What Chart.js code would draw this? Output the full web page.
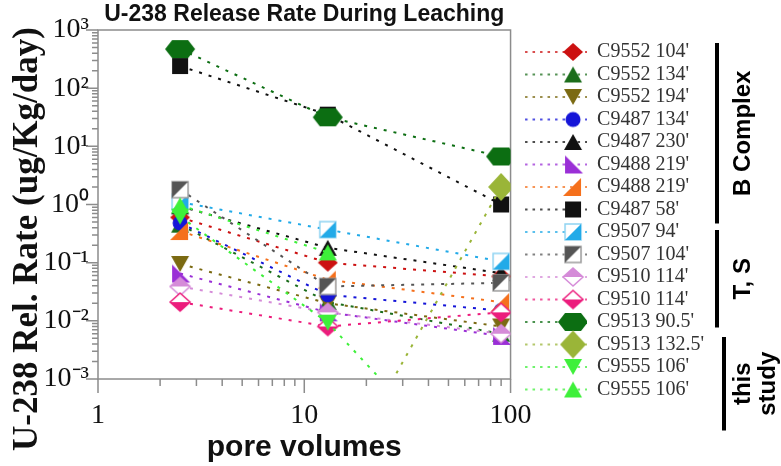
<!DOCTYPE html>
<html>
<head>
<meta charset="utf-8">
<script src="https://cdn.jsdelivr.net/npm/chart.js@4.4.0/dist/chart.umd.min.js"></script>
<style>
  html, body { margin: 0; padding: 0; background: #fff; }
</style>
</head>
<body>
<canvas id="leachChart" width="781" height="466"></canvas>
<script>
// pore volumes at which each leachate sample was taken
const poreVolumes = [2.5, 13, 90];

const xTicks = [1, 10, 100];
const xTickLabels = ['1', '10', '100'];
const yTicks = [0.001, 0.01, 0.1, 1, 10, 100, 1000];
const yTickLabels = ['10⁻³', '10⁻²', '10⁻¹', '10⁰', '10¹', '10²', '10³'];

// U-238 release rate (ug/Kg/day), one array per core sample
const c9552_104 = [0.6, 0.1, 0.058];
const c9552_134 = [0.45, 0.021, 0.006];
const c9552_194 = [0.095, 0.02, 0.008];
const c9487_134 = [0.48, 0.028, 0.015];
const c9487_230 = [0.93, 0.18, 0.066];
const c9488_219a = [0.065, 0.014, 0.0055];
const c9488_219b = [0.35, 0.051, 0.021];
const c9487_58 = [240, 35, 1.0];
const c9507_94 = [1.1, 0.37, 0.105];
const c9507_104 = [1.8, 0.039, 0.045];
const c9510_114a = [0.039, 0.014, 0.006];
const c9510_114b = [0.021, 0.008, 0.014];
const c9513_905 = [470, 31.6, 6.7];
const c9513_1325 = [null, 0.00001, 2.0];
const c9555_106a = [0.62, 0.0093, 0.000006];
const c9555_106b = [0.97, 0.15, null];

const seriesNames = ["C9552 104'", "C9552 134'", "C9552 194'", "C9487 134'", "C9487 230'",
  "C9488 219'", "C9488 219'", "C9487 58'", "C9507 94'", "C9507 104'", "C9510 114'",
  "C9510 114'", "C9513 90.5'", "C9513 132.5'", "C9555 106'", "C9555 106'"];
const seriesValues = [c9552_104, c9552_134, c9552_194, c9487_134, c9487_230, c9488_219a,
  c9488_219b, c9487_58, c9507_94, c9507_104, c9510_114a, c9510_114b, c9513_905,
  c9513_1325, c9555_106a, c9555_106b];
const seriesColors = ['#cc1111', '#1b6d1b', '#7b6a12', '#1515d8', '#111111', '#9a2fd6',
  '#f5701c', '#111111', '#22aae8', '#555555', '#d58bd8', '#ec1c7c', '#0c6e12',
  '#9ab538', '#3ef03a', '#3ef03a'];
const markerKinds = ['diamond', 'triUp', 'triDown', 'circle', 'triUp', 'triLeft', 'triRight',
  'square', 'halfSqLR', 'halfSqUL', 'halfDiaUp', 'halfDiaDown', 'hexagon', 'bigDiamond',
  'triDown', 'triUp'];

function drawMarker(ctx, kind, color, cx, cy) {
  const path = (pts) => {
    ctx.beginPath();
    pts.forEach(([px, py], i) => i ? ctx.lineTo(cx + px, cy + py) : ctx.moveTo(cx + px, cy + py));
    ctx.closePath();
  };
  ctx.fillStyle = color;
  ctx.strokeStyle = color;
  ctx.lineWidth = 1.5;
  const sq = [[-8, -8], [8, -8], [8, 8], [-8, 8]];
  const dia = [[0, -9], [10, 0], [0, 9], [-10, 0]];
  switch (kind) {
    case 'diamond': path(dia); ctx.fill(); break;
    case 'triUp': path([[0, -8], [9, 8], [-9, 8]]); ctx.fill(); break;
    case 'triDown': path([[-9, -8], [9, -8], [0, 8]]); ctx.fill(); break;
    case 'circle': ctx.beginPath(); ctx.arc(cx, cy, 7.5, 0, Math.PI * 2); ctx.fill(); break;
    case 'triLeft': path([[-8, -9], [-8, 9], [10, 9]]); ctx.fill(); break;
    case 'triRight': path([[8, -9], [8, 9], [-10, 9]]); ctx.fill(); break;
    case 'square': path(sq); ctx.fill(); break;
    case 'halfSqLR':
      path(sq); ctx.fillStyle = '#fff'; ctx.fill();
      ctx.strokeStyle = '#8fd3f2'; ctx.stroke();
      path([[8, -8], [8, 8], [-8, 8]]); ctx.fillStyle = color; ctx.fill();
      break;
    case 'halfSqUL':
      path(sq); ctx.fillStyle = '#fff'; ctx.fill();
      ctx.strokeStyle = '#9a9a9a'; ctx.stroke();
      path([[-8, -8], [8, -8], [-8, 8]]); ctx.fillStyle = color; ctx.fill();
      break;
    case 'halfDiaUp':
      path(dia); ctx.fillStyle = '#fff'; ctx.fill(); ctx.stroke();
      path([[-10, 0], [0, -9], [10, 0]]); ctx.fillStyle = color; ctx.fill();
      break;
    case 'halfDiaDown':
      path(dia); ctx.fillStyle = '#fff'; ctx.fill(); ctx.stroke();
      path([[-10, 0], [0, 9], [10, 0]]); ctx.fillStyle = color; ctx.fill();
      break;
    case 'hexagon': path([[-15, 0], [-8, -9], [8, -9], [15, 0], [8, 9], [-8, 9]]); ctx.fill(); break;
    case 'bigDiamond': path([[0, -14], [13, 0], [0, 14], [-13, 0]]); ctx.fill(); break;
  }
}

function pointImage(i) {
  const c = document.createElement('canvas');
  c.width = 32; c.height = 32;
  drawMarker(c.getContext('2d'), markerKinds[i], seriesColors[i], 16, 16);
  return c;
}

function legendImage(i) {
  const c = document.createElement('canvas');
  c.width = 74; c.height = 30;
  const ctx = c.getContext('2d');
  ctx.strokeStyle = seriesColors[i];
  ctx.lineWidth = 1.6;
  ctx.setLineDash([2.5, 5]);
  ctx.beginPath(); ctx.moveTo(12, 15); ctx.lineTo(74, 15); ctx.stroke();
  ctx.setLineDash([]);
  drawMarker(ctx, markerKinds[i], seriesColors[i], 60, 15);
  return c;
}

const pointImgs = seriesNames.map((n, i) => pointImage(i));
const legendImgs = seriesNames.map((n, i) => legendImage(i));

const groups = [
  { text: ['B Complex'], from: 0, to: 7, x: 717, top: 1, bottom: 4 },
  { text: ['T, S'], from: 8, to: 11, x: 717, top: 8, bottom: 18 },
  { text: ['this', 'study'], from: 12, to: 15, x: 724, top: 25, bottom: 31 }
];

const decor = {
  id: 'decor',
  beforeDatasetsDraw(chart) {
    const { ctx, chartArea: a, scales: { x, y } } = chart;
    ctx.save();
    ctx.strokeStyle = '#8c8c8c';
    ctx.lineWidth = 1.5;
    ctx.strokeRect(a.left, a.top, a.right - a.left, a.bottom - a.top);
    ctx.beginPath();
    for (let e = -3; e <= 3; e++) {
      for (let k = 1; k <= 9; k++) {
        const v = k * Math.pow(10, e);
        if (v > 1000) break;
        const py = y.getPixelForValue(v);
        ctx.moveTo(a.left, py);
        ctx.lineTo(a.left - (k === 1 ? 12 : 6), py);
      }
    }
    for (let e = 0; e <= 2; e++) {
      for (let k = 1; k <= 9; k++) {
        const v = k * Math.pow(10, e);
        if (v > 100) break;
        const px = x.getPixelForValue(v);
        ctx.moveTo(px, a.bottom);
        ctx.lineTo(px, a.bottom + (k === 1 ? 14 : 7));
      }
    }
    ctx.stroke();
    ctx.restore();
  },
  afterDraw(chart) {
    const { ctx } = chart;
    const boxes = chart.legend.legendHitBoxes;
    ctx.save();
    ctx.fillStyle = '#111';
    ctx.font = 'bold 35px "Liberation Serif"';
    ctx.textAlign = 'center';
    ctx.translate(37, 239);
    ctx.rotate(-Math.PI / 2);
    ctx.fillText('U-238 Rel. Rate (ug/Kg/day)', 0, 0);
    ctx.restore();

    ctx.save();
    ctx.strokeStyle = '#000';
    ctx.fillStyle = '#000';
    ctx.lineWidth = 4;
    ctx.font = 'bold 24px "Liberation Sans"';
    ctx.textAlign = 'center';
    groups.forEach(g => {
      const y0 = boxes[g.from].top + g.top;
      const y1 = boxes[g.to].top + boxes[g.to].height + g.bottom;
      ctx.beginPath(); ctx.moveTo(g.x, y0); ctx.lineTo(g.x, y1); ctx.stroke();
      g.text.forEach((t, j) => {
        ctx.save();
        ctx.translate(750 + j * 25, (y0 + y1) / 2);
        ctx.rotate(-Math.PI / 2);
        ctx.fillText(t, 0, 0);
        ctx.restore();
      });
    });
    ctx.restore();
  }
};

new Chart(document.getElementById('leachChart'), {
  type: 'line',
  data: {
    datasets: seriesNames.map((name, i) => ({
      label: name,
      data: poreVolumes.map((pv, j) => ({ x: pv, y: seriesValues[i][j] })),
      borderColor: seriesColors[i],
      backgroundColor: seriesColors[i],
      borderWidth: 2,
      borderDash: [3, 7],
      pointStyle: pointImgs[i],
      pointRadius: 9,
      pointHoverRadius: 9,
      fill: false,
      order: seriesNames.length - i
    }))
  },
  options: {
    responsive: false,
    animation: false,
    devicePixelRatio: 1,
    layout: { padding: { right: 67 } },
    plugins: {
      title: {
        display: true,
        fullSize: false,
        text: 'U-238 Release Rate During Leaching',
        color: '#111',
        font: { family: 'Liberation Sans', size: 23, weight: 'bold' },
        padding: { top: 1, bottom: 1.4 }
      },
      legend: {
        position: 'right',
        align: 'start',
        maxWidth: 260,
        title: { display: true, text: ' ', font: { size: 20 }, padding: { top: 8, bottom: 7.5 } },
        labels: {
          usePointStyle: true,
          pointStyleWidth: 74,
          padding: 2.5,
          color: '#333',
          font: { family: 'Liberation Serif', size: 20 },
          generateLabels: (chart) => chart.data.datasets.map((ds, i) => ({
            text: ds.label,
            pointStyle: legendImgs[i],
            datasetIndex: i,
            hidden: false,
            lineWidth: 0,
            strokeStyle: 'transparent',
            fillStyle: 'transparent',
            fontColor: '#333'
          }))
        }
      },
      tooltip: { enabled: false }
    },
    scales: {
      x: {
        type: 'logarithmic',
        min: 1,
        max: 100,
        afterFit: (scale) => { scale.height = 87; },
        afterBuildTicks: (scale) => { scale.ticks = xTicks.map(v => ({ value: v })); },
        grid: { display: false, drawTicks: false },
        border: { display: false },
        ticks: {
          autoSkip: false,
          maxRotation: 0,
          padding: 20,
          color: '#111',
          font: { family: 'Liberation Serif', size: 28 },
          callback: (v, i) => xTickLabels[i]
        },
        title: {
          display: true,
          text: 'pore volumes',
          color: '#111',
          font: { family: 'Liberation Sans', size: 30, weight: 'bold' },
          padding: { top: 0, bottom: 0 }
        }
      },
      y: {
        type: 'logarithmic',
        min: 0.001,
        max: 1000,
        afterFit: (scale) => { scale.width = 98; },
        afterBuildTicks: (scale) => { scale.ticks = yTicks.map(v => ({ value: v })); },
        grid: { display: false, drawTicks: false },
        border: { display: false },
        ticks: {
          autoSkip: false,
          padding: 9,
          color: '#111',
          font: { family: 'Liberation Serif', size: 28 },
          callback: (v, i) => yTickLabels[i]
        }
      }
    }
  },
  plugins: [decor]
});
</script>
</body>
</html>
